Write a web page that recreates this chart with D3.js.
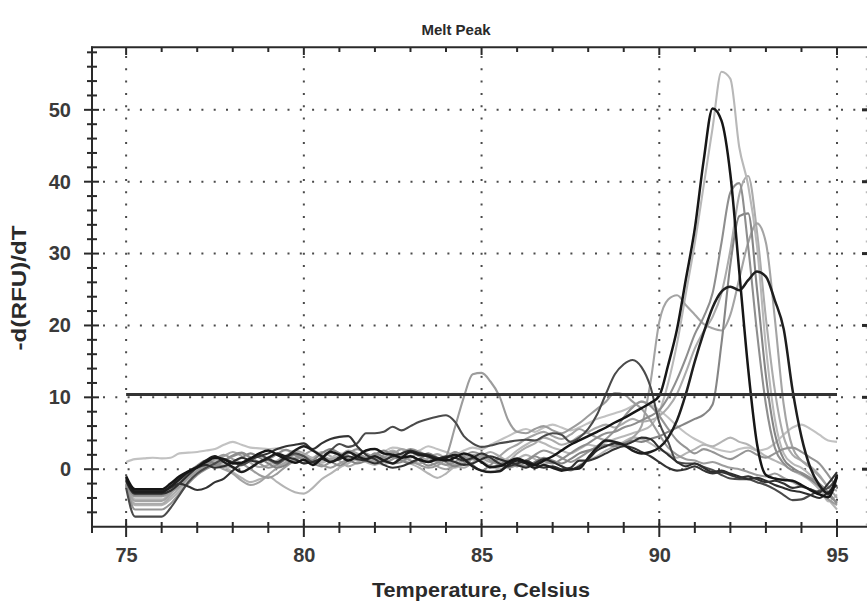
<!DOCTYPE html>
<html><head><meta charset="utf-8">
<script src="https://cdn.jsdelivr.net/npm/d3@7"></script>
<style>body{margin:0;background:#fff}svg{display:block}text{font-family:"Liberation Sans",Arial,sans-serif}</style>
</head><body><svg id="c" width="867" height="605"></svg>
<script>
// ---- data ----
const tempStart = 75, tempStep = 0.25, tempCount = 81;
const xTickMajor = [75, 80, 85, 90, 95];
const yTickMajor = [0, 10, 20, 30, 40, 50];
const thresholdValue = 10.4;
const titleText = "Melt Peak";
const xTitle = "Temperature, Celsius";
const yTitle = "-d(RFU)/dT";

const lgTop = [1.0,1.4,1.5,1.6, 1.5,1.6,2.2,2.3, 2.4,2.6,2.8,3.4, 3.8,3.4,3.0,2.9, 2.8,2.9,2.6,2.4, 2.0,1.4,1.0,1.4, 1.8,2.4,2.0,1.6, 1.8,2.4,3.0,2.8, 2.2,2.6,3.2,2.8, 2.4,2.0,2.6,3.0, 2.8,3.4,4.0,4.6, 5.2,5.6,5.2,5.8, 6.2,5.8,5.4,5.8, 6.4,7.0,7.4,7.8, 8.2,8.8,9.4,9.0, 8.2,7.2,6.0,5.0, 4.2,3.6,3.0,2.6, 2.4,2.8,3.0,2.6, 2.8,3.6,4.8,5.8, 6.2,5.6,4.8,4.0, 3.8];
const lgDip = [-2.4,-5.0,-5.0,-5.0, -5.0,-4.2,-3.0,-1.6, -0.4,0.4,1.0,0.4, -0.4,-1.2,-1.8,-1.4, -1.0,-1.8,-2.6,-3.2, -3.4,-2.6,-1.4,-0.6, 0.2,0.8,1.4,1.0, 0.6,1.2,1.8,1.4, 0.8,0.2,-0.6,-1.2, -0.6,0.4,1.2,1.8, 1.2,0.4,0.0,0.6, 1.4,2.0,1.4,0.8, 1.0,0.4,-0.2,0.6, 1.2,1.8,2.6,3.2, 3.8,4.4,4.2,3.6, 2.8,2.2,1.6,2.2, 2.8,3.4,3.2,3.8, 4.4,3.8,3.4,2.6, 1.8,1.2,0.6,-0.2, -0.8,-1.6,-2.8,-4.2, -5.6];
const lg41 = [-2.4,-4.8,-4.8,-4.8, -4.8,-3.8,-2.6,-1.2, -0.2,0.6,1.2,1.8, 2.4,1.8,0.9,0.3, 0.6,1.2,1.9,2.6, 2.2,1.6,2.4,1.8, 1.2,0.4,0.9,1.6, 1.2,2.0,2.6,1.9, 1.2,0.8,1.5,2.1, 1.4,0.6,0.2,0.9, 1.8,2.4,1.8,1.2, 2.2,3.0,3.6,4.4, 4.0,3.4,3.8,4.6, 5.2,5.8,6.2,5.8, 6.4,7.0,6.6,6.8, 7.4,8.6,10.5,13.5, 16.8,19.2,21.2,24.5, 30.5,38.2,40.8,33.0, 21.0,11.0,4.5,2.0, 1.2,0.4,-0.8,-2.4, -3.0];
const lg55 = [-2.2,-4.2,-4.2,-4.2, -4.2,-3.2,-2.0,-0.8, 0.2,0.8,1.2,0.6, 0.2,0.5,1.3,1.8, 1.2,0.5,0.8,1.6, 2.0,1.4,0.9,1.5, 2.2,1.8,1.2,1.6, 1.0,0.6,1.4,2.0, 1.6,2.4,1.8,1.2, 0.6,0.2,0.8,1.6, 2.0,1.4,1.0,1.6, 2.6,3.4,4.0,3.6, 3.0,2.6,2.2,2.8, 3.4,3.2,3.8,4.2, 4.6,5.0,5.4,6.0, 8.0,12.0,17.5,24.5, 31.5,39.5,47.5,55.3, 54.3,44.8,39.5,31.0, 17.0,7.0,2.2,0.8, 0.2,-0.8,-2.2,-4.5, -3.5];
const lg24 = [-2.2,-4.4,-4.4,-4.4, -4.4,-3.4,-2.0,-0.6, 0.4,1.0,0.6,0.0, -0.6,-1.6,-2.2,-1.8, -0.8,0.2,1.0,1.6, 2.0,2.6,2.0,1.4, 1.8,2.6,2.2,1.6, 1.0,1.4,2.0,2.8, 2.4,1.8,1.2,0.4, 0.0,0.6,1.4,2.0, 1.6,1.0,1.8,2.8, 3.4,4.2,4.8,5.2, 4.6,4.2,4.8,5.6, 5.0,4.4,4.0,3.8, 3.6,4.4,6.0,12.0, 20.5,23.6,24.2,22.8, 21.5,20.2,19.6,19.3, 21.5,26.5,31.5,34.2, 31.5,21.0,9.0,3.0, 1.2,0.2,-1.0,-2.5, -4.0];
const g2 = [-2.2,-5.6,-5.6,-5.6, -5.6,-4.8,-3.4,-2.0, -0.8,0.0,0.6,1.2, 1.8,2.2,1.6,0.8, 0.2,0.6,1.4,2.0, 1.4,0.8,0.4,1.0, 1.6,2.2,2.8,2.2, 1.6,1.0,1.4,2.2, 2.8,2.4,1.6,1.0, 0.6,1.0,1.8,2.4, 2.0,1.2,0.6,0.2, 0.6,1.2,2.0,2.6, 2.2,1.6,1.0,1.6, 2.4,3.2,4.2,5.4, 7.2,8.6,9.4,8.8, 7.4,5.6,4.0,3.0, 2.2,2.8,2.4,1.8, 1.4,2.0,2.6,2.0, 1.6,2.2,2.8,3.0, 2.4,1.6,0.8,-0.8, -2.6];
const g13 = [-2.0,-3.8,-3.8,-3.8, -3.8,-3.2,-2.4,-1.2, -0.2,0.6,1.4,2.0, 1.4,0.8,0.0,-0.8, -1.2,-0.6,0.4,1.2, 1.8,1.2,0.6,0.2, 0.8,1.4,2.0,1.6, 1.0,1.6,2.4,2.0, 1.2,0.6,0.2,0.5, 1.7,5.8,10.0,13.2, 13.4,12.2,10.2,6.8, 5.2,5.0,5.6,6.0, 5.4,5.0,5.6,6.4, 7.4,8.4,9.4,10.6, 10.4,9.4,8.4,6.8, 4.8,3.0,2.0,1.4, 1.2,0.8,1.0,0.6, 0.2,0.0,-0.4,-0.8, -1.0,-0.6,-1.2,-1.8, -2.4,-2.8,-3.4,-4.2, -5.0];
const g36 = [-1.8,-3.4,-3.4,-3.4, -3.4,-2.6,-1.4,-0.4, 0.5,1.2,0.8,0.4, 1.0,1.6,2.2,1.6, 0.8,0.2,0.6,1.4, 0.8,1.2,2.2,2.8, 2.2,1.4,0.8,1.2, 2.0,2.6,1.8,1.2, 0.8,1.4,2.2,1.6, 1.0,0.4,0.8,1.4, 1.0,0.2,0.6,1.2, 0.8,0.4,1.0,1.6, 1.2,0.8,1.4,2.2, 2.6,3.0,3.4,3.2, 3.6,4.0,3.8,4.2, 4.6,5.2,5.8,6.4, 7.0,7.6,9.0,17.5, 28.5,35.2,35.6,25.0, 13.0,5.0,1.4,0.2, -0.6,-1.4,-2.4,-3.6, -4.6];
const g40 = [-2.0,-3.6,-3.6,-3.6, -3.6,-2.8,-1.6,-0.5, 0.4,0.9,0.5,1.2, 1.9,2.3,1.6,1.0, 1.4,2.1,2.7,2.0, 1.2,0.8,1.6,1.1, 0.5,1.2,2.0,1.4, 2.2,1.6,0.8,1.0, 1.8,1.2,0.5,0.9, 1.6,2.4,1.8,0.6, -0.2,0.6,1.4,0.8, 0.4,1.0,1.8,1.2, 0.8,1.4,2.2,3.0, 3.6,4.4,5.0,5.2, 5.8,6.2,6.8,7.4, 8.2,10.0,12.5,15.5, 18.8,21.2,24.5,31.5, 38.5,39.8,31.0,19.0, 9.0,3.0,0.8,-0.2, -0.5,-1.2,-2.0,-3.2, -4.8];
const d15 = [-2.6,-6.6,-6.6,-6.6, -6.6,-5.4,-3.6,-1.8, -0.6,0.2,0.8,1.4, 1.0,0.6,1.2,2.0, 1.4,0.8,1.6,2.2, 1.8,1.0,1.6,2.6, 3.5,3.1,3.6,5.0, 5.0,5.2,5.9,5.4, 6.0,6.6,7.0,7.3, 7.5,6.6,4.6,3.6, 3.1,3.3,3.6,3.8, 4.0,4.1,4.0,4.6, 5.0,4.8,3.8,4.4, 5.6,7.6,10.5,13.2, 14.6,15.2,14.2,11.5, 6.5,3.8,1.0,0.8, 0.8,0.3,-0.1,-0.8, -1.3,-1.4,-1.4,-1.8, -2.2,-2.8,-3.6,-4.3, -4.2,-3.6,-3.0,-2.6, -1.2];
const dark2 = [-1.6,-3.4,-3.4,-3.4, -3.4,-3.0,-2.0,-0.8, 0.2,0.6,0.2,0.4, 1.0,1.6,1.2,1.0, 1.4,1.0,1.6,1.4, 0.8,1.0,1.4,1.0, 1.4,1.8,1.4,1.2, 0.8,1.2,1.8,2.2, 2.6,2.2,2.0,1.6, 1.4,1.0,0.6,0.8, 1.4,1.8,1.4,1.0, 0.6,0.2,0.8,1.4, 1.0,0.4,0.0,0.4, 1.4,2.6,3.2,3.6, 3.4,3.8,4.4,4.2, 3.0,2.0,1.0,0.4, 0.8,0.2,-0.4,-0.2, -0.6,-1.0,-1.4,-1.2, -1.6,-2.2,-2.6,-3.0, -3.2,-3.6,-4.0,-3.2, -2.2];
const dBump = [-1.2,-3.0,-3.0,-3.0, -3.0,-2.6,-2.0,-2.4, -2.9,-2.6,-1.8,-1.3, -0.2,0.8,1.4,1.8, 2.2,2.8,3.2,3.4, 3.6,2.8,3.6,4.2, 4.5,4.6,3.2,2.0, 1.4,0.6,0.2,0.4, 0.9,1.4,1.0,1.4, 1.8,1.6,1.2,1.6, 2.2,1.6,0.8,0.4, 0.8,1.2,0.6,0.2, 0.4,0.0,0.2,1.2, 1.2,1.6,2.2,2.8, 3.2,3.0,2.4,1.8, 1.0,0.2,-0.2,0.0, 0.4,-0.2,-0.6,-0.4, -0.8,-1.2,-1.0,-1.4, -1.8,-1.6,-2.0,-2.6, -2.4,-2.8,-3.2,-2.0, -0.4];
const bdh = [-1.4,-3.2,-3.2,-3.2, -3.2,-2.4,-1.4,-0.4, 0.3,1.2,1.8,1.0, 0.3,-0.4,0.2,1.0, 1.6,2.2,1.8,2.6, 3.2,2.6,1.8,1.0, 1.6,2.4,1.8,1.4, 1.8,1.2,0.8,1.6, 2.4,2.0,1.8,1.4, 1.6,2.0,1.4,0.4, -0.2,-0.4,-0.3,0.6, 1.2,0.8,0.2,0.6, 0.2,-0.2,0.0,0.1, 1.6,3.0,4.0,3.8, 3.4,2.6,2.2,2.4, 3.0,4.4,6.8,10.5, 15.0,19.0,22.5,24.7, 25.4,24.9,26.3,27.5, 26.8,23.5,19.5,11.0, 4.5,0.2,-2.2,-3.4, -0.8];
const b50 = [-1.0,-2.8,-2.8,-2.8, -2.8,-2.0,-1.0,-0.3, 0.3,1.0,1.6,1.4, 0.8,0.9,1.5,2.2, 2.6,2.0,1.4,0.9, 1.3,0.6,1.5,2.4, 2.0,1.2,1.8,2.6, 2.8,2.2,2.0,1.6, 1.8,1.3,1.0,1.4, 1.2,1.6,2.2,1.8, 1.0,0.3,0.4,1.0, 1.5,1.0,0.6,1.2, 1.8,2.6,3.4,4.0, 4.6,5.2,5.8,6.5, 7.1,7.8,8.5,9.2, 10.2,14.5,19.5,26.5, 33.5,43.0,50.2,48.5, 41.0,27.5,14.0,3.5, -0.8,-1.3,-1.5,-1.6, -2.2,-2.9,-3.5,-3.9, -1.0];

const seriesNames = ["lgTop","lgDip","lg41","lg55","lg24","g2","g13","g36","g40","d15","dark2","dBump","bdh","b50"];
const seriesValues = [lgTop,lgDip,lg41,lg55,lg24,g2,g13,g36,g40,d15,dark2,dBump,bdh,b50];

// ---- styles ----
const seriesColor = {lgTop:"#c2c2c2", lgDip:"#b4b4b4", lg41:"#ababab", lg55:"#b8b8b8", lg24:"#a4a4a4", g2:"#959595", g13:"#9c9c9c", g36:"#858585", g40:"#8e8e8e", d15:"#4a4a4a", dark2:"#2e2e2e", dBump:"#333333", bdh:"#1e1e1e", b50:"#161616"};
const W = 867, H = 605;
const svg = d3.select("#c");
svg.append("rect").attr("width", W).attr("height", H).attr("fill", "#fff");

const x = d3.scaleLinear().domain([74.04, 95.9]).range([92, 869]);
const y = d3.scaleLinear().domain([-8, 58.7]).range([526.7, 47.3]);
const temps = d3.range(tempCount).map(i => tempStart + i * tempStep);
const axisColor = "#2a2a2a";

// grid (dotted)
const grid = svg.append("g").attr("stroke", "#4a4a4a").attr("stroke-width", 2).attr("stroke-dasharray", "2,10.3");
xTickMajor.forEach(t => grid.append("line").attr("x1", x(t)).attr("x2", x(t)).attr("y1", 56).attr("y2", 526));
yTickMajor.forEach(v => grid.append("line").attr("x1", 103).attr("x2", 869).attr("y1", y(v)).attr("y2", y(v)));
svg.append("line").attr("x1", 866.5).attr("x2", 866.5).attr("y1", 56).attr("y2", 526)
  .attr("stroke", "#bbb").attr("stroke-width", 1.5).attr("stroke-dasharray", "2,10.3");

// curves
const line = d3.line().x((d, i) => x(temps[i])).y(d => y(d)).curve(d3.curveMonotoneX);
const curves = svg.append("g").attr("fill", "none").attr("stroke-linejoin", "round");
seriesValues.forEach((vals, k) => {
  const nm = seriesNames[k];
  curves.append("path").datum(vals).attr("d", line)
    .attr("stroke", seriesColor[nm])
    .attr("stroke-width", nm === "b50" || nm === "bdh" ? 2.5 : 2.1);
});

// threshold
svg.append("line").attr("x1", x(75)).attr("x2", x(95)).attr("y1", y(thresholdValue)).attr("y2", y(thresholdValue))
  .attr("stroke", "#333").attr("stroke-width", 3);

// axes frame
const frame = svg.append("g").attr("stroke", axisColor).attr("stroke-width", 2);
frame.append("line").attr("x1", 92).attr("x2", 92).attr("y1", 46.5).attr("y2", 527.5);
frame.append("line").attr("x1", 91).attr("x2", 867).attr("y1", 47.3).attr("y2", 47.3);
frame.append("line").attr("x1", 91).attr("x2", 867).attr("y1", 526.7).attr("y2", 526.7);

const yMinor = d3.range(-6, 59, 2).filter(v => v % 10 !== 0);
yMinor.forEach(v => frame.append("line").attr("x1", 87).attr("x2", 97).attr("y1", y(v)).attr("y2", y(v)));
yTickMajor.forEach(v => {
  frame.append("line").attr("x1", 84).attr("x2", 99).attr("y1", y(v)).attr("y2", y(v));
  frame.append("line").attr("x1", 862).attr("x2", 867).attr("y1", y(v)).attr("y2", y(v)).attr("stroke-width", 3);
});
const xMinor = d3.range(75, 96, 1).filter(t => t % 5 !== 0);
xMinor.forEach(t => {
  frame.append("line").attr("x1", x(t)).attr("x2", x(t)).attr("y1", 522).attr("y2", 533);
  frame.append("line").attr("x1", x(t)).attr("x2", x(t)).attr("y1", 47).attr("y2", 52);
});
xTickMajor.forEach(t => {
  frame.append("line").attr("x1", x(t)).attr("x2", x(t)).attr("y1", 519).attr("y2", 537);
  frame.append("line").attr("x1", x(t)).attr("x2", x(t)).attr("y1", 47).attr("y2", 55);
});
frame.append("line").attr("x1", 92).attr("x2", 92).attr("y1", 522).attr("y2", 533);

// axis labels via d3 axes
const yAxis = d3.axisLeft(y).tickValues(yTickMajor).tickSize(0).tickPadding(21);
const gy = svg.append("g").attr("transform", "translate(92,0)").call(yAxis);
gy.select(".domain").remove();
gy.selectAll("text").attr("font-size", 20).attr("font-weight", "bold").attr("fill", "#3a3a3a")
  .attr("font-family", "Liberation Sans, Arial, sans-serif");

const xAxis = d3.axisBottom(x).tickValues(xTickMajor).tickSize(0).tickPadding(21);
const gx = svg.append("g").attr("transform", "translate(0,526.7)").call(xAxis);
gx.select(".domain").remove();
gx.selectAll("text").attr("font-size", 20).attr("font-weight", "bold").attr("fill", "#3a3a3a")
  .attr("font-family", "Liberation Sans, Arial, sans-serif");

// titles
svg.append("text").attr("x", 456).attr("y", 35).attr("text-anchor", "middle")
  .attr("font-size", 15).attr("font-weight", "bold").attr("fill", "#2a2a2a").text(titleText);
svg.append("text").attr("x", 481).attr("y", 597).attr("text-anchor", "middle")
  .attr("font-size", 20).attr("font-weight", "bold").attr("fill", "#2a2a2a")
  .attr("textLength", 218).attr("lengthAdjust", "spacingAndGlyphs").text(xTitle);
svg.append("text").attr("transform", "translate(26,288) rotate(-90)").attr("text-anchor", "middle")
  .attr("font-size", 20).attr("font-weight", "bold").attr("fill", "#2a2a2a")
  .attr("textLength", 125).attr("lengthAdjust", "spacingAndGlyphs").text(yTitle);
</script></body></html>
